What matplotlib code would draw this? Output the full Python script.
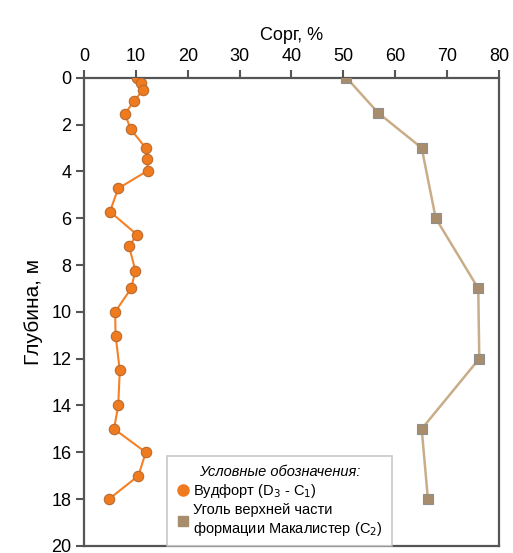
import matplotlib.pyplot as plt
from matplotlib.lines import Line2D

plt.rcParams['font.family'] = ['Liberation Sans', 'DejaVu Sans']

# Вудфорт
woodDepth = [0, 0.21, 0.53, 1.0, 1.55, 2.2, 3.0, 3.47, 3.97, 4.73, 5.72, 6.7, 7.2,
             8.24, 9.0, 10.0, 11.02, 12.5, 14.0, 15.0, 16.0, 17.0, 18.0]
woodCorg = [10.2, 11.0, 11.4, 9.6, 7.9, 9.0, 11.9, 12.2, 12.3, 6.6, 5.0, 10.2, 8.7,
            9.9, 9.1, 6.0, 6.1, 6.9, 6.6, 5.8, 11.9, 10.5, 4.8]

# Уголь Макалистер
coalDepth = [0, 1.5, 3.0, 6.0, 9.0, 12.0, 15.0, 18.0]
coalCorg = [50.6, 56.7, 65.1, 67.8, 76.0, 76.2, 65.1, 66.3]

xTicks = [0, 10, 20, 30, 40, 50, 60, 70, 80]
yTicks = [0, 2, 4, 6, 8, 10, 12, 14, 16, 18, 20]

fig = plt.figure(figsize=(5.13, 5.53), dpi=100)
ax = fig.add_axes([0.1637, 0.0127, 0.809, 0.8468])

ax.plot(woodCorg, woodDepth, color='#F58025', lw=1.5, marker='o', ms=7.5,
        mfc='#F07A1E', mec='#B86A30', mew=0.8, zorder=3)
ax.plot(coalCorg, coalDepth, color='#C9AD88', lw=1.8, marker='s', ms=7.5,
        mfc='#A88D6C', mec='#8E8E8E', mew=0.8, zorder=3)

ax.set_xlim(0, 80)
ax.set_ylim(20, 0)
ax.set_xticks(xTicks)
ax.set_yticks(yTicks)
ax.xaxis.tick_top()
ax.xaxis.set_label_position('top')
ax.set_xlabel('Сорг, %', fontsize=13, labelpad=6)
ax.set_ylabel('Глубина, м', fontsize=15, labelpad=6)
ax.tick_params(axis='both', labelsize=13, length=6, width=1.5, color='#555555',
               direction='out', pad=3)
for s in ax.spines.values():
    s.set_color('#555555')
    s.set_linewidth(1.6)

handles = [
    Line2D([], [], ls='none', marker='o', ms=8, mfc='#F07A1E', mec='#F07A1E'),
    Line2D([], [], ls='none', marker='s', ms=7, mfc='#A88D6C', mec='#A88D6C'),
]
labels = ['Вудфорт (D$_3$ - C$_1$)',
          'Уголь верхней части\nформации Макалистер (C$_2$)']
leg = ax.legend(handles, labels, title='Условные обозначения:', loc='lower left',
                bbox_to_anchor=(0.19, -0.01), fontsize=10.5, title_fontsize=10.5,
                frameon=True, fancybox=False, edgecolor='#BBBBBB',
                handletextpad=0.3, handlelength=0.9, borderpad=0.6, labelspacing=0.2,
                borderaxespad=0.3)
leg.get_title().set_style('italic')
leg.get_frame().set_linewidth(1.2)

fig.savefig('out.png', dpi=100)
